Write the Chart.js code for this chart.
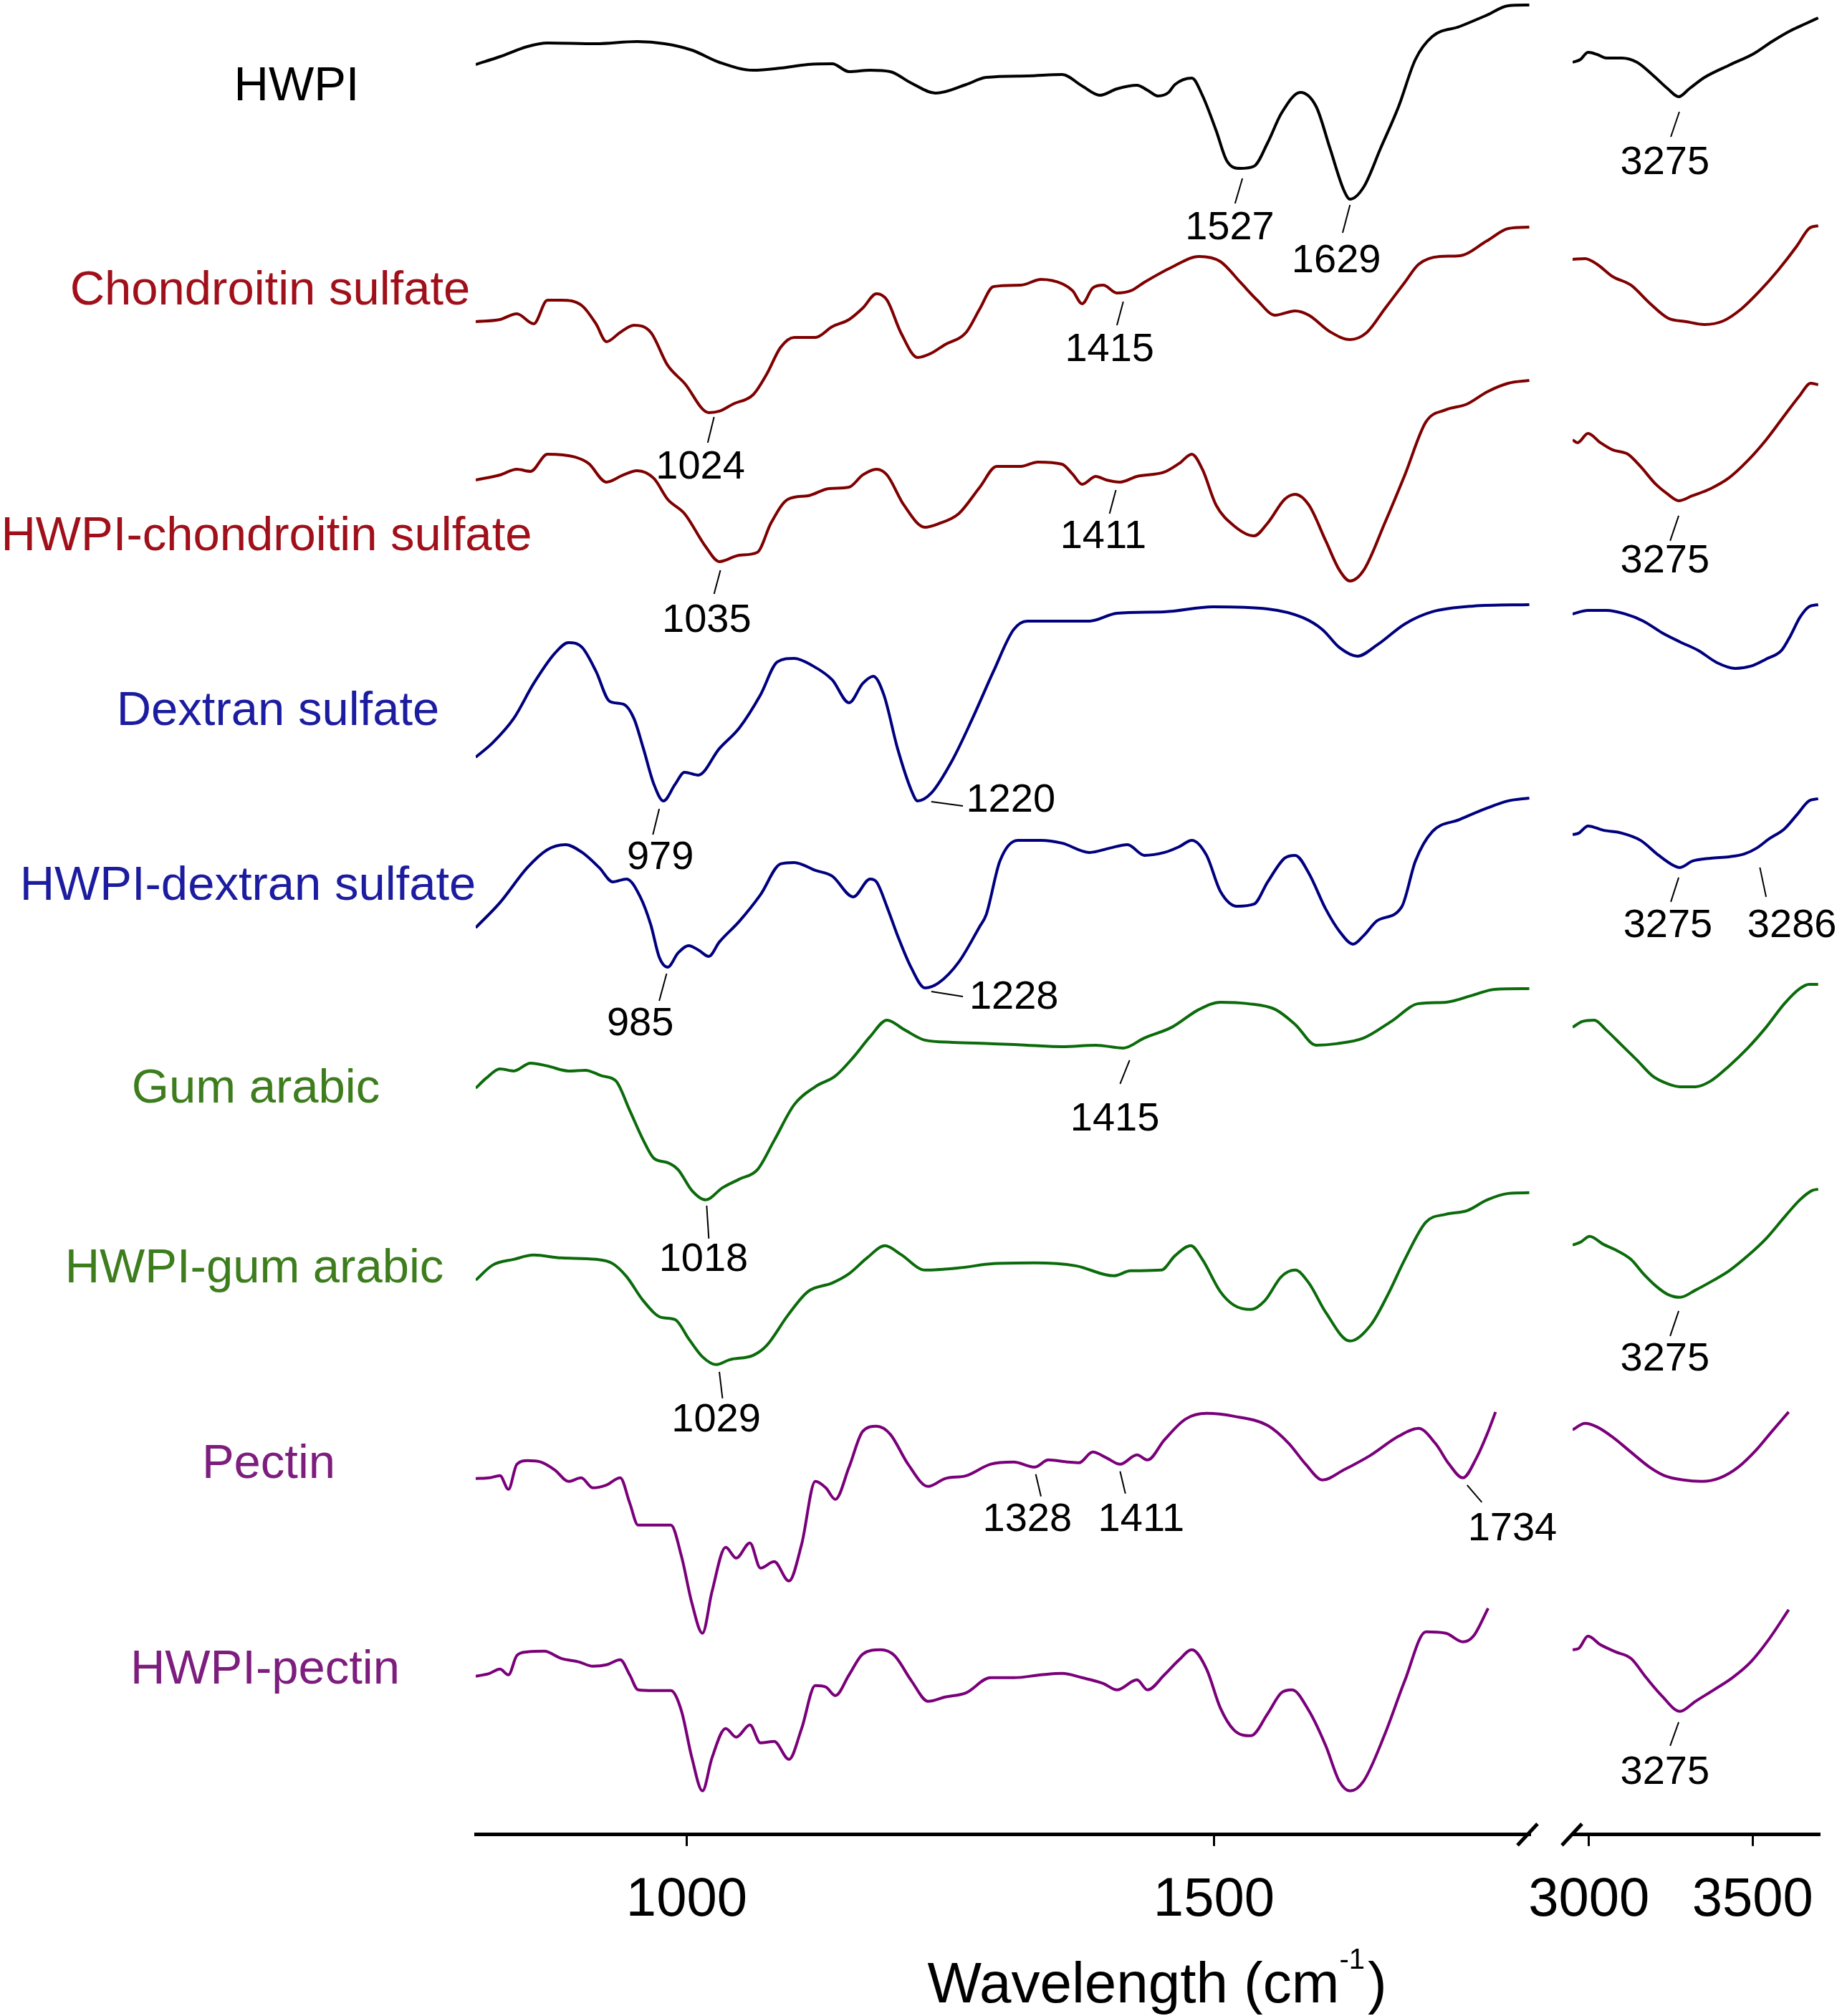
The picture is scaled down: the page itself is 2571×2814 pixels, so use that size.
<!DOCTYPE html>
<html>
<head>
<meta charset="utf-8">
<title>FTIR spectra</title>
<script src="https://cdn.jsdelivr.net/npm/chart.js@4.4.1/dist/chart.umd.min.js"></script>
<style>
  html, body { margin: 0; padding: 0; background: #fff; }
  #wrap { width: 2571px; height: 2814px; position: relative; }
</style>
</head>
<body>
<div id="wrap"><canvas id="ftirChart"></canvas></div>
<script>
// [wavenumber cm-1, transmittance a.u. (stacked)]
const hwpiL = [[800,247.1],[823,248.2],[849,249.6],[868,250.1],[914,250.0],[953,250.3],[979,250.0],[1005,249.1],[1031,247.4],[1063,246.3],[1089,246.6],[1115,247.1],[1138,247.2],[1154,246.1],[1174,246.3],[1193,246.1],[1213,244.5],[1236,243.1],[1265,244.3],[1284,245.3],[1323,245.5],[1356,245.7],[1375,244.1],[1392,242.8],[1408,243.7],[1427,244.2],[1437,243.5],[1447,242.7],[1457,243.2],[1463,244.3],[1479,245.2],[1489,242.8],[1502,237.9],[1512,233.7],[1525,232.6],[1538,232.9],[1551,236.2],[1564,240.3],[1582,243.2],[1597,241.2],[1610,235.4],[1623,229.6],[1629,228.3],[1642,230.0],[1658,235.4],[1675,241.2],[1691,247.8],[1707,251.0],[1733,252.4],[1759,254.0],[1779,255.3],[1799,255.4]];
const hwpiR = [[2950,247.4],[2974,247.8],[2997,248.8],[3025,248.5],[3053,248.0],[3100,248.0],[3147,247.4],[3193,245.7],[3241,243.7],[3274,242.6],[3306,243.7],[3353,245.3],[3428,247.0],[3503,248.6],[3559,250.3],[3615,251.8],[3662,252.8],[3700,253.6]];

const csL = [[800,211.2],[823,211.5],[839,212.3],[855,210.9],[868,214.2],[881,214.2],[901,213.4],[914,210.9],[924,208.4],[937,209.7],[950,210.7],[966,209.7],[982,205.1],[998,202.6],[1021,198.5],[1031,198.7],[1044,199.7],[1063,201.0],[1076,203.9],[1089,207.6],[1102,209.0],[1122,209.0],[1138,210.5],[1154,211.5],[1167,213.1],[1180,215.1],[1190,214.2],[1203,209.7],[1219,206.2],[1232,206.8],[1245,208.0],[1265,209.7],[1278,213.0],[1291,216.1],[1317,216.3],[1336,217.1],[1356,216.5],[1366,215.5],[1375,213.7],[1385,215.9],[1395,216.3],[1408,215.2],[1421,215.5],[1434,216.7],[1460,218.8],[1486,220.3],[1506,219.6],[1525,216.7],[1541,214.2],[1558,212.1],[1577,212.7],[1590,212.1],[1610,209.8],[1629,208.7],[1645,209.7],[1662,213.0],[1681,216.7],[1694,219.2],[1714,220.3],[1733,220.4],[1759,222.5],[1779,224.2],[1799,224.4]];
const csR = [[2950,219.9],[2988,220.0],[3025,219.2],[3072,217.5],[3128,216.3],[3185,213.8],[3241,211.7],[3297,211.2],[3353,210.8],[3410,211.3],[3466,213.0],[3522,215.5],[3578,218.4],[3634,221.7],[3672,224.2],[3700,224.6]];

const hcsL = [[800,189.1],[823,189.8],[839,190.6],[852,190.3],[868,192.7],[894,192.3],[907,191.4],[924,188.8],[940,189.8],[953,190.4],[969,189.3],[982,186.4],[998,184.4],[1018,179.8],[1031,177.7],[1050,178.6],[1067,179.0],[1080,183.1],[1096,186.4],[1115,186.9],[1135,187.9],[1154,188.1],[1167,189.8],[1180,190.6],[1190,189.8],[1206,185.6],[1226,182.5],[1239,183.0],[1258,184.4],[1278,188.1],[1294,191.0],[1317,191.0],[1333,191.6],[1356,191.3],[1366,189.9],[1375,188.5],[1388,189.6],[1398,189.1],[1411,188.8],[1427,189.6],[1453,190.2],[1467,191.4],[1479,192.7],[1489,190.6],[1502,185.6],[1519,182.7],[1538,181.3],[1551,183.1],[1567,186.4],[1577,187.1],[1590,185.6],[1606,180.6],[1619,176.5],[1629,175.0],[1642,176.5],[1662,183.1],[1681,189.8],[1701,197.2],[1720,198.9],[1740,199.7],[1759,201.4],[1779,202.6],[1799,203.0]];
const hcsR = [[2950,194.7],[2965,194.3],[2997,195.6],[3035,194.3],[3072,193.3],[3119,192.7],[3157,191.0],[3204,188.5],[3241,187.1],[3274,186.2],[3316,186.9],[3372,187.9],[3428,189.4],[3485,191.8],[3541,194.7],[3597,198.1],[3644,200.9],[3677,202.6],[3700,202.4]];

const dsL = [[800,150.4],[816,152.4],[836,155.8],[855,160.7],[875,164.9],[888,166.4],[901,165.7],[914,162.4],[927,158.2],[940,157.8],[950,155.8],[959,151.6],[969,146.6],[978,144.3],[989,146.6],[998,148.3],[1011,147.9],[1031,151.6],[1050,154.5],[1070,159.1],[1086,163.7],[1102,164.2],[1119,163.2],[1138,161.2],[1154,158.0],[1167,160.7],[1177,161.7],[1187,159.1],[1200,151.6],[1213,145.8],[1219,144.3],[1232,145.4],[1252,150.0],[1271,155.8],[1291,162.4],[1310,168.2],[1323,169.4],[1349,169.4],[1382,169.4],[1408,170.5],[1453,170.7],[1499,171.4],[1551,171.1],[1584,169.9],[1603,168.2],[1619,165.7],[1636,164.5],[1655,166.1],[1681,169.0],[1707,170.7],[1746,171.5],[1799,171.7]];
const dsR = [[2950,170.4],[2997,170.9],[3053,170.9],[3110,170.4],[3166,169.4],[3222,167.8],[3278,166.5],[3334,165.3],[3391,163.6],[3447,162.8],[3494,163.1],[3541,164.1],[3588,165.3],[3616,167.4],[3644,169.9],[3672,171.4],[3700,171.7]];

const hdsL = [[800,126.6],[823,130.1],[849,135.0],[868,137.5],[885,138.2],[901,137.1],[917,135.0],[930,133.0],[943,133.4],[956,130.9],[966,127.0],[974,122.5],[982,121.1],[992,123.1],[1002,124.1],[1011,123.5],[1021,122.6],[1031,124.6],[1050,127.5],[1070,131.2],[1089,135.5],[1102,135.7],[1122,134.6],[1138,133.8],[1158,130.9],[1174,133.4],[1180,133.0],[1190,129.5],[1200,125.5],[1213,121.0],[1226,118.2],[1239,118.9],[1258,121.8],[1278,126.8],[1284,128.4],[1297,135.9],[1314,138.8],[1336,138.8],[1356,138.4],[1382,137.1],[1401,137.7],[1418,138.2],[1434,136.7],[1453,137.1],[1467,137.9],[1479,138.8],[1493,136.7],[1506,131.7],[1522,129.6],[1538,129.9],[1551,133.0],[1567,136.3],[1577,136.7],[1590,134.2],[1606,129.2],[1619,126.1],[1632,124.3],[1642,125.5],[1655,127.6],[1678,129.5],[1691,135.9],[1707,140.0],[1733,141.7],[1759,143.3],[1779,144.3],[1799,144.7]];
const hdsR = [[2950,139.6],[2969,139.8],[2997,140.8],[3044,140.2],[3100,139.8],[3157,138.8],[3213,136.7],[3250,135.5],[3278,135.0],[3316,135.9],[3372,136.3],[3428,136.5],[3475,136.9],[3512,137.7],[3550,139.0],[3597,140.4],[3634,142.3],[3672,144.3],[3700,144.6]];

const gaL = [[800,104.2],[810,105.6],[823,106.9],[836,106.6],[852,107.7],[868,107.3],[888,106.6],[904,106.7],[920,105.9],[933,105.2],[946,101.1],[959,96.9],[969,94.4],[982,93.8],[992,92.8],[1005,89.9],[1018,88.6],[1034,90.3],[1050,91.5],[1067,92.8],[1083,96.9],[1102,101.9],[1122,104.4],[1141,105.9],[1158,108.5],[1174,111.4],[1190,113.7],[1206,112.4],[1226,110.9],[1252,110.6],[1291,110.4],[1323,110.2],[1356,110.0],[1388,110.2],[1414,109.8],[1434,111.2],[1460,112.7],[1486,115.2],[1506,116.2],[1532,116.0],[1558,115.2],[1577,113.1],[1597,110.2],[1616,110.4],[1642,111.2],[1668,113.5],[1694,116.0],[1720,116.2],[1746,117.2],[1766,118.0],[1799,118.1]];
const gaR = [[2950,112.7],[2979,113.5],[3016,113.7],[3053,112.3],[3100,110.2],[3147,108.1],[3194,105.9],[3241,104.8],[3278,104.4],[3325,104.4],[3372,105.2],[3428,107.3],[3485,109.8],[3541,112.7],[3597,116.0],[3644,118.1],[3672,118.7],[3700,118.7]];

const hgaL = [[800,77.4],[816,79.5],[836,80.3],[855,80.9],[881,80.5],[914,80.3],[930,79.7],[943,77.9],[959,74.5],[976,72.2],[989,71.9],[1002,69.2],[1015,66.7],[1028,65.6],[1041,66.3],[1063,66.9],[1076,68.3],[1096,72.5],[1115,75.8],[1138,77.0],[1154,78.3],[1171,80.5],[1188,82.2],[1203,81.0],[1226,78.8],[1258,79.1],[1291,79.7],[1330,79.8],[1369,79.4],[1405,78.0],[1421,78.7],[1450,78.8],[1463,80.8],[1478,82.2],[1489,80.3],[1506,75.8],[1519,73.9],[1535,73.3],[1548,74.5],[1564,77.9],[1577,78.8],[1590,77.0],[1606,72.9],[1629,68.9],[1649,71.2],[1665,75.4],[1681,80.3],[1701,85.5],[1720,86.6],[1740,87.1],[1759,88.6],[1779,89.5],[1799,89.6]];
const hgaR = [[2950,82.3],[2974,82.7],[3002,83.5],[3044,82.4],[3082,81.6],[3128,80.3],[3166,78.3],[3204,76.6],[3241,75.4],[3278,75.0],[3325,76.0],[3381,77.4],[3428,78.7],[3485,80.8],[3541,83.2],[3597,86.2],[3644,88.6],[3681,89.9],[3700,90.1]];

const pecL = [[800,49.7],[813,49.8],[823,50.1],[831,48.2],[839,51.7],[849,52.2],[862,52.0],[875,50.9],[888,49.3],[900,49.8],[911,48.4],[924,48.8],[937,49.8],[946,46.3],[954,43.2],[966,43.2],[985,43.2],[995,38.9],[1005,32.3],[1015,28.1],[1024,33.9],[1037,40.1],[1047,38.6],[1060,40.7],[1070,37.2],[1083,38.1],[1097,35.4],[1109,40.5],[1122,49.3],[1132,48.4],[1141,46.8],[1154,51.3],[1167,56.3],[1180,57.0],[1193,55.9],[1210,51.7],[1229,48.6],[1245,49.7],[1265,50.1],[1288,51.7],[1310,52.0],[1330,51.3],[1343,52.3],[1362,52.0],[1372,51.9],[1385,53.4],[1398,52.6],[1411,51.7],[1427,53.0],[1437,52.3],[1453,55.1],[1473,58.0],[1493,58.8],[1519,58.4],[1551,57.1],[1571,54.6],[1587,51.7],[1603,49.5],[1623,50.9],[1649,53.0],[1675,55.6],[1694,56.7],[1710,54.6],[1723,51.7],[1736,49.8],[1749,52.6],[1759,55.9],[1767,59.0]];
const pecR = [[2950,56.5],[2988,57.4],[3025,56.9],[3072,55.5],[3128,53.4],[3185,51.3],[3231,50.1],[3288,49.5],[3344,49.3],[3400,49.8],[3456,51.3],[3513,53.8],[3559,56.3],[3610,59.0]];

const hpecL = [[800,22.1],[813,22.5],[823,23.1],[831,22.3],[839,25.0],[849,25.5],[865,25.6],[881,24.6],[898,24.1],[911,23.5],[924,23.7],[937,24.4],[946,22.3],[954,20.2],[969,20.1],[985,20.1],[995,17.3],[1005,10.7],[1015,6.1],[1024,10.7],[1037,14.8],[1047,13.6],[1060,15.3],[1070,12.8],[1083,13.0],[1097,10.5],[1109,14.8],[1122,20.8],[1132,20.6],[1141,19.4],[1154,22.3],[1167,25.2],[1184,25.8],[1197,25.0],[1213,21.5],[1229,18.6],[1245,19.2],[1265,19.8],[1288,21.9],[1310,21.9],[1336,22.3],[1356,22.5],[1375,21.9],[1395,21.1],[1408,20.2],[1427,21.6],[1437,20.2],[1453,22.3],[1467,24.4],[1479,25.8],[1493,23.1],[1506,17.7],[1519,14.6],[1535,13.8],[1551,16.9],[1564,19.8],[1574,20.2],[1590,17.3],[1606,12.4],[1619,7.4],[1629,6.1],[1642,7.5],[1662,14.0],[1681,21.5],[1701,28.3],[1720,28.1],[1736,26.9],[1746,27.7],[1760,31.6]];
const hpecR = [[2950,25.8],[2969,26.0],[2997,27.7],[3035,26.5],[3082,25.5],[3128,24.6],[3175,21.9],[3222,19.4],[3278,17.2],[3325,18.6],[3381,20.2],[3438,21.9],[3494,24.1],[3550,27.3],[3610,31.4]];

const leftTicks = [1000, 1500];
const rightTicks = [3000, 3500];

// trace name, data, colours; labelX is the label centre in pixels, labelY in data units
const traces = [
  { name: 'HWPI', left: hwpiL, right: hwpiR, line: '#000000', text: '#000000', labelX: 414, labelY: 243.9 },
  { name: 'Chondroitin sulfate', left: csL, right: csR, line: '#7f0000', text: '#a0101a', labelX: 377, labelY: 215.4 },
  { name: 'HWPI-chondroitin sulfate', left: hcsL, right: hcsR, line: '#7f0000', text: '#a0101a', labelX: 372, labelY: 181.1 },
  { name: 'Dextran sulfate', left: dsL, right: dsR, line: '#00007f', text: '#1c1ca0', labelX: 388, labelY: 156.7 },
  { name: 'HWPI-dextran sulfate', left: hdsL, right: hdsR, line: '#00007f', text: '#1c1ca0', labelX: 346, labelY: 132.3 },
  { name: 'Gum arabic', left: gaL, right: gaR, line: '#0b6b0b', text: '#3d7d1d', labelX: 357, labelY: 104.0 },
  { name: 'HWPI-gum arabic', left: hgaL, right: hgaR, line: '#0b6b0b', text: '#3d7d1d', labelX: 355, labelY: 78.9 },
  { name: 'Pectin', left: pecL, right: pecR, line: '#7a007a', text: '#7d1d7d', labelX: 375, labelY: 51.6 },
  { name: 'HWPI-pectin', left: hpecL, right: hpecR, line: '#7a007a', text: '#7d1d7d', labelX: 370, labelY: 22.9 },
];

// peak labels: leader line from -> to, text centred at "at" (or left-aligned)
const peaks = [
  { s: 'x', t: '1527', from: [1527, 231.2], to: [1520, 227.7], at: [1515, 224.2] },
  { s: 'x', t: '1629', from: [1629, 227.5], to: [1622, 223.6], at: [1616, 219.6] },
  { s: 'x2', t: '3275', from: [3276, 240.5], to: [3250, 237.0], at: [3232, 233.3] },
  { s: 'x', t: '1415', from: [1414, 214.0], to: [1408, 210.7], at: [1401, 207.2] },
  { s: 'x', t: '1024', from: [1026, 197.9], to: [1020, 194.3], at: [1013, 190.8] },
  { s: 'x', t: '1411', from: [1407, 187.7], to: [1401, 184.4], at: [1395, 181.1] },
  { s: 'x', t: '1035', from: [1032, 176.5], to: [1026, 173.2], at: [1019, 169.4] },
  { s: 'x2', t: '3275', from: [3274, 184.1], to: [3248, 180.6], at: [3232, 177.7] },
  { s: 'x', t: '979', from: [974, 143.2], to: [968, 139.6], at: [975, 136.3] },
  { s: 'x', t: '1220', from: [1232, 144.2], to: [1262, 143.6], at: [1265, 144.3], left: true },
  { s: 'x2', t: '3275', from: [3274, 133.6], to: [3250, 130.2], at: [3241, 126.8] },
  { s: 'x2', t: '3286', from: [3522, 135.0], to: [3541, 130.9], at: [3620, 126.8] },
  { s: 'x', t: '985', from: [981, 120.2], to: [974, 116.4], at: [956, 113.1] },
  { s: 'x', t: '1228', from: [1232, 117.7], to: [1262, 117.0], at: [1268, 116.8], left: true },
  { s: 'x', t: '1415', from: [1420, 108.1], to: [1411, 104.8], at: [1406, 99.8] },
  { s: 'x', t: '1018', from: [1019, 87.8], to: [1021, 83.2], at: [1016, 80.2] },
  { s: 'x', t: '1029', from: [1031, 64.6], to: [1034, 60.9], at: [1028, 57.8] },
  { s: 'x2', t: '3275', from: [3274, 73.1], to: [3248, 69.6], at: [3232, 66.3] },
  { s: 'x', t: '1328', from: [1331, 50.3], to: [1336, 47.2], at: [1323, 43.9] },
  { s: 'x', t: '1411', from: [1411, 50.7], to: [1416, 47.6], at: [1431, 43.9] },
  { s: 'x', t: '1734', from: [1740, 48.8], to: [1754, 46.4], at: [1783, 42.6] },
  { s: 'x2', t: '3275', from: [3274, 15.7], to: [3248, 12.4], at: [3232, 8.6] },
];

const FONT = '"Liberation Sans", Arial, Helvetica, sans-serif';
Chart.defaults.font.family = FONT;
Chart.defaults.color = '#000';

const toXY = (pts) => pts.map(p => ({ x: p[0], y: p[1] }));

const datasets = [];
traces.forEach(tr => {
  datasets.push({ label: tr.name, data: toXY(tr.left), xAxisID: 'x', yAxisID: 'y', borderColor: tr.line });
  datasets.push({ label: tr.name + ' (OH)', data: toXY(tr.right), xAxisID: 'x2', yAxisID: 'y', borderColor: tr.line });
});

// tick labels sit well inside the axes, so drop the label overflow padding
const noOverflow = (s) => { s.paddingLeft = 0; s.paddingRight = 0; };

const axisCommon = {
  type: 'linear',
  position: 'bottom',
  stack: 'wn',
  grid: { display: true, drawOnChartArea: false, drawTicks: true, tickLength: 16, tickWidth: 3, tickColor: '#000' },
  border: { display: true, color: '#000', width: 5 },
  ticks: { font: { size: 76 }, color: '#000', padding: 31, maxRotation: 0, callback: (v) => String(v) },
  afterFit: noOverflow,
};

const overlay = {
  id: 'ftirOverlay',
  afterDraw(chart) {
    const ctx = chart.ctx;
    const sx = chart.scales.x, sx2 = chart.scales.x2, sy = chart.scales.y;
    ctx.save();

    // sample names
    ctx.textAlign = 'center';
    ctx.textBaseline = 'middle';
    ctx.font = '67px ' + FONT;
    traces.forEach(tr => {
      ctx.fillStyle = tr.text;
      ctx.fillText(tr.name, tr.labelX, sy.getPixelForValue(tr.labelY));
    });

    // peak labels
    ctx.font = '56px ' + FONT;
    ctx.fillStyle = '#000';
    ctx.strokeStyle = '#000';
    ctx.lineWidth = 2;
    peaks.forEach(p => {
      const sc = chart.scales[p.s];
      ctx.beginPath();
      ctx.moveTo(sc.getPixelForValue(p.from[0]), sy.getPixelForValue(p.from[1]));
      ctx.lineTo(sc.getPixelForValue(p.to[0]), sy.getPixelForValue(p.to[1]));
      ctx.stroke();
      ctx.textAlign = p.left ? 'left' : 'center';
      ctx.fillText(p.t, sc.getPixelForValue(p.at[0]), sy.getPixelForValue(p.at[1]));
    });

    // axis break marks
    const axisY = sx.top;
    ctx.lineWidth = 5;
    [sx.right - 4, sx2.left - 1].forEach(cx => {
      ctx.beginPath();
      ctx.moveTo(cx - 14, axisY + 15);
      ctx.lineTo(cx + 14, axisY - 15);
      ctx.stroke();
    });

    // axis title with superscript
    const main1 = 'Wavelength (cm', sup = '-1', main2 = ')';
    const bigFont = '80px ' + FONT, supFont = '40px ' + FONT;
    ctx.font = bigFont;
    const w1 = ctx.measureText(main1).width, w3 = ctx.measureText(main2).width;
    ctx.font = supFont;
    const w2 = ctx.measureText(sup).width;
    const total = w1 + w2 + 4 + w3;
    let tx = (sx.left + sx2.right) / 2 + 13 - total / 2;
    const base = 2795;
    ctx.textAlign = 'left';
    ctx.textBaseline = 'alphabetic';
    ctx.font = bigFont;
    ctx.fillText(main1, tx, base);
    tx += w1;
    ctx.font = supFont;
    ctx.fillText(sup, tx, base - 47);
    tx += w2 + 4;
    ctx.font = bigFont;
    ctx.fillText(main2, tx, base);

    ctx.restore();
  }
};

new Chart(document.getElementById('ftirChart'), {
  type: 'line',
  data: { datasets },
  options: {
    responsive: true,
    maintainAspectRatio: false,
    animation: false,
    layout: { padding: { left: 664, right: 31, top: 0, bottom: 84 } },
    elements: {
      point: { radius: 0 },
      line: { borderWidth: 4, cubicInterpolationMode: 'monotone', fill: false },
    },
    plugins: { legend: { display: false }, tooltip: { enabled: false } },
    scales: {
      x: Object.assign({}, axisCommon, {
        min: 800, max: 1800, stackWeight: 1472,
        afterBuildTicks: (s) => { s.ticks = leftTicks.map(v => ({ value: v })); },
      }),
      xgap: {
        type: 'linear', position: 'bottom', stack: 'wn', stackWeight: 59, min: 0, max: 1,
        grid: { display: false }, border: { display: false }, ticks: { display: false },
        afterFit: noOverflow,
      },
      x2: Object.assign({}, axisCommon, {
        min: 2950, max: 3705, stackWeight: 345,
        afterBuildTicks: (s) => { s.ticks = rightTicks.map(v => ({ value: v })); },
      }),
      y: { type: 'linear', display: false, min: 0, max: 256.1 },
    },
  },
  plugins: [overlay],
});
</script>
</body>
</html>
